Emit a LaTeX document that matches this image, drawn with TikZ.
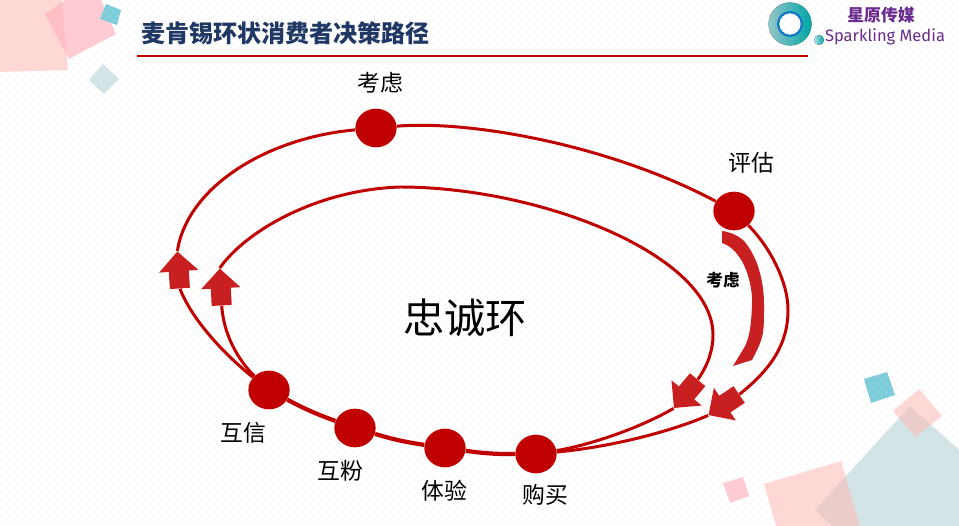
\documentclass[tikz,border=0pt]{standalone}
\usepackage{fontspec}
\usepackage{xcolor}
\usetikzlibrary{shapes.arrows}
\usetikzlibrary{shapes.geometric}
\usetikzlibrary{patterns}
\newfontfamily\cjk{Noto Sans CJK SC}
\newfontfamily\logofont{Fira Sans}
\definecolor{loopred}{HTML}{C00000}
\definecolor{arrowred}{HTML}{C82020}
\definecolor{titleblue}{HTML}{1F3864}
\definecolor{logopurple}{HTML}{6A2C8E}
\definecolor{salmon}{HTML}{FFB9B3}
\definecolor{rosepink}{HTML}{FFB0BC}
\definecolor{paleteal}{HTML}{D2E4E6}
\definecolor{squareteal}{HTML}{7CCCDA}
\pgfdeclarepatternformonly{pagedots}{\pgfqpoint{0pt}{0pt}}{\pgfqpoint{4.552pt}{4.552pt}}{\pgfqpoint{4.552pt}{4.552pt}}{
  \pgfpathcircle{\pgfqpoint{1.138pt}{1.138pt}}{0.33pt}
  \pgfpathcircle{\pgfqpoint{3.414pt}{3.414pt}}{0.33pt}
  \pgfusepath{fill}
}
\tikzset{
  stage/.style={ellipse,fill=loopred,minimum width=23.5pt,minimum height=22pt,inner sep=0pt},
  stagelabel/.style={font=\cjk\fontsize{13}{15}\selectfont,text=black,inner sep=0pt},
  looparc/.style={draw=loopred,line width=1.7pt},
  loopthick/.style={draw=loopred,line width=2.4pt},
  redarrow/.style={single arrow,fill=arrowred,minimum height=21pt,single arrow head extend=5.5pt,inner xsep=0pt,inner ysep=5.5pt},
}
\begin{document}
\begin{tikzpicture}[x=0.02cm,y=-0.02cm]
  \useasboundingbox (0,0) rectangle (959,526);
  \fill[white] (0,0) rectangle (959,526);
  % corner squares
  \fill[salmon,opacity=0.55] (0,0) -- (62,0) -- (68,70) -- (0,72) -- cycle;
  \fill[rosepink,opacity=0.65] (45,14) -- (65,0) -- (101,0) -- (116,34) -- (69,59) -- cycle;
  \fill[squareteal] (106,4) -- (121,10) -- (117,25) -- (100,19) -- cycle;
  \fill[paleteal] (103,64) -- (119,79) -- (104,94) -- (89,80) -- cycle;
  \fill[squareteal] (864,379) -- (887,372) -- (895,395) -- (871,403) -- cycle;
  \fill[paleteal] (910,406) -- (959,450) -- (959,526) -- (832,526) -- (815,510) -- cycle;
  \fill[salmon,opacity=0.55] (919,389) -- (942,416) -- (915,437) -- (893,411) -- cycle;
  \fill[salmon,opacity=0.55] (764,484) -- (841,461) -- (860,526) -- (776,526) -- cycle;
  \fill[rosepink,opacity=0.65] (723,483) -- (743,477) -- (749,496) -- (730,503) -- cycle;
  % dots
  \fill[pattern=pagedots,pattern color=black!11] (0,0) rectangle (959,526);
  % title
  \node[font=\cjk\bfseries\fontsize{13.7}{15}\selectfont,text=titleblue,inner sep=0pt] (title) at (285.5,33) {麦肯锡环状消费者决策路径};
  \coordinate (ruleleft) at (137,56);
  \coordinate (ruleright) at (808,56);
  \draw[loopred,line width=1.1pt] (ruleleft) -- (ruleright);
  % logo
  \fill[even odd rule,left color=paleteal!70!teal,right color=teal!70!cyan] (790,24) circle (21.5) (790,24) circle (11);
  \draw[cyan!60!blue,line width=1.2pt] (790,24) circle (12);
  \fill[left color=squareteal!60!white,right color=teal!70!cyan] (819,40) circle (5);
  \node[font=\cjk\bfseries\fontsize{9.6}{11}\selectfont,text=logopurple,inner sep=0pt] (logocn) at (881,15) {星原传媒};
  \node[font=\logofont\fontsize{9.4}{12}\selectfont,text=logopurple,inner sep=0pt] (logoen) at (885,37) {Sparkling Media};
  % stages
  \node[stage] (kaolv) at (376,128) {};
  \node[stage] (pinggu) at (734,211) {};
  \node[stage] (gouma) at (536,454) {};
  \node[stage] (tiyan) at (445,448) {};
  \node[stage] (hufen) at (355,428) {};
  \node[stage] (huxin) at (269,390) {};
  \node[stagelabel] (lkaolv) at (380,83) {考虑};
  \node[stagelabel] (lpinggu) at (751,163) {评估};
  \node[stagelabel] (lgouma) at (545,495) {购买};
  \node[stagelabel] (ltiyan) at (444,491) {体验};
  \node[stagelabel] (lhufen) at (340,471) {互粉};
  \node[stagelabel] (lhuxin) at (243,433) {互信};
  \node[font=\cjk\fontsize{23.5}{26}\selectfont,inner sep=0pt] (loyal) at (465,318) {忠诚环};
  \node[font=\cjk\bfseries\fontsize{9.5}{11}\selectfont,inner sep=0pt] (kaolvb) at (723,280) {考虑};
  % arrows
  \node[redarrow,rotate=94] (upouter) at (179,275) {};
  \node[redarrow,rotate=93] (upinner) at (221,292) {};
  \node[redarrow,rotate=230] (downinner) at (689,390) {};
  \node[redarrow,rotate=214] (downouter) at (728,402) {};
  % loops
  \draw[looparc] (huxin) .. controls (225,355) and (192,320) .. (upouter.tail);
  \draw[looparc] (upouter.tip) .. controls (187,188) and (265,138) .. (kaolv);
  \draw[looparc] (kaolv) .. controls (470,120) and (610,145) .. (pinggu);
  \draw[looparc] (pinggu) .. controls (768,245) and (788,280) .. (788,310) .. controls (788,345) and (770,370) .. (downouter.tail);
  \draw[looparc] (downouter.tip) .. controls (670,432) and (610,447) .. (gouma);
  \draw[looparc] (huxin) .. controls (243,365) and (224,340) .. (upinner.tail);
  \draw[looparc] (upinner.tip) .. controls (245,232) and (315,190) .. (400,187) .. controls (540,187) and (713,255) .. (713,335) .. controls (713,350) and (708,365) .. (downinner.tail);
  \draw[looparc] (downinner.tip) .. controls (640,428) and (590,445) .. (gouma);
  \draw[loopthick] (gouma) to[bend left=4] (tiyan);
  \draw[loopthick] (tiyan) to[bend left=4] (hufen);
  \draw[loopthick] (hufen) to[bend left=4] (huxin);
  % curved arrow
  \fill[arrowred] (722,231) .. controls (730,232) and (737,235) .. (743,240) .. controls (757,255) and (764,280) .. (764,305) .. controls (764,320) and (764,330) .. (762,337) .. controls (760,345) and (756,352) .. (752,360) -- (733,366) -- (744,348) .. controls (750,338) and (752,320) .. (752,297) .. controls (750,270) and (738,248) .. (722,243) -- cycle;
\end{tikzpicture}
\end{document}
